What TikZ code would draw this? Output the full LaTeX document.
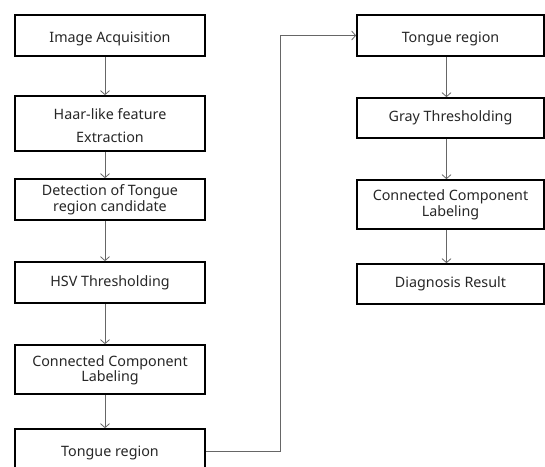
\documentclass[tikz,border=0pt]{standalone}
\usepackage{fontspec}
\setmainfont{Noto Sans}
\usetikzlibrary{arrows.meta}
\newcommand{\lowr}[2]{\raisebox{-#1}[\height][\depth]{#2}}
\begin{document}
\begin{tikzpicture}[x=1pt,y=-1pt,
  box/.style={draw=black,line width=1.7pt,rectangle,inner sep=0pt,align=center,font=\fontsize{14.3}{16}\selectfont,text=black!85},
  lbox/.style={box,minimum width=190pt},
  rbox/.style={box,minimum width=187pt},
  conn/.style={draw=black!60,line width=0.8pt,-{Straight Barb[length=4pt,width=9pt,line width=0.8pt]}}]
\useasboundingbox (0,0) rectangle (545,466);
\clip (0,0) rectangle (545,466);
% left column
\node[lbox,minimum height=41pt] (b1) at (110,35.5) {\lowr{3.5pt}{Image Acquisition}};
\node[lbox,minimum height=55pt] (b2) at (110,123.5) {\lowr{2pt}{Haar-like feature}\\[7pt]\lowr{2pt}{Extraction}};
\node[lbox,minimum height=41pt] (b3) at (110,199.5) {Detection of Tongue\\region candidate};
\node[lbox,minimum height=41pt] (b4) at (110,282.5) {HSV Thresholding};
\node[lbox,minimum height=49pt] (b5) at (110,369.5) {\lowr{1.5pt}{Connected Component}\\Labeling};
\node[lbox,minimum height=44pt] (b6) at (110,451) {\lowr{2pt}{Tongue region}};
% right column
\node[rbox,minimum height=41pt] (r1) at (450.5,35.5) {\lowr{3.5pt}{Tongue region}};
\node[rbox,minimum height=40pt] (r2) at (450.5,118) {Gray Thresholding};
\node[rbox,minimum height=49pt] (r3) at (450.5,204.5) {Connected Component\\Labeling};
\node[rbox,minimum height=40pt] (r4) at (450.5,284) {Diagnosis Result};
% connectors
\draw[conn] ([xshift=-5pt]b1.south) -- ([xshift=-5pt]b2.north);
\draw[conn] ([xshift=-5pt]b2.south) -- ([xshift=-5pt]b3.north);
\draw[conn] ([xshift=-5pt]b3.south) -- ([xshift=-5pt]b4.north);
\draw[conn] ([xshift=-5pt]b4.south) -- ([xshift=-5pt]b5.north);
\draw[conn] ([xshift=-5pt]b5.south) -- ([xshift=-5pt]b6.north);
\coordinate (turn) at (280,0);
\draw[conn] (b6.east) -| (turn |- r1.west) -- (r1.west);
\draw[conn] ([xshift=-4pt]r1.south) -- ([xshift=-4pt]r2.north);
\draw[conn] ([xshift=-4pt]r2.south) -- ([xshift=-4pt]r3.north);
\draw[conn] ([xshift=-4pt]r3.south) -- ([xshift=-4pt]r4.north);
\end{tikzpicture}
\end{document}
